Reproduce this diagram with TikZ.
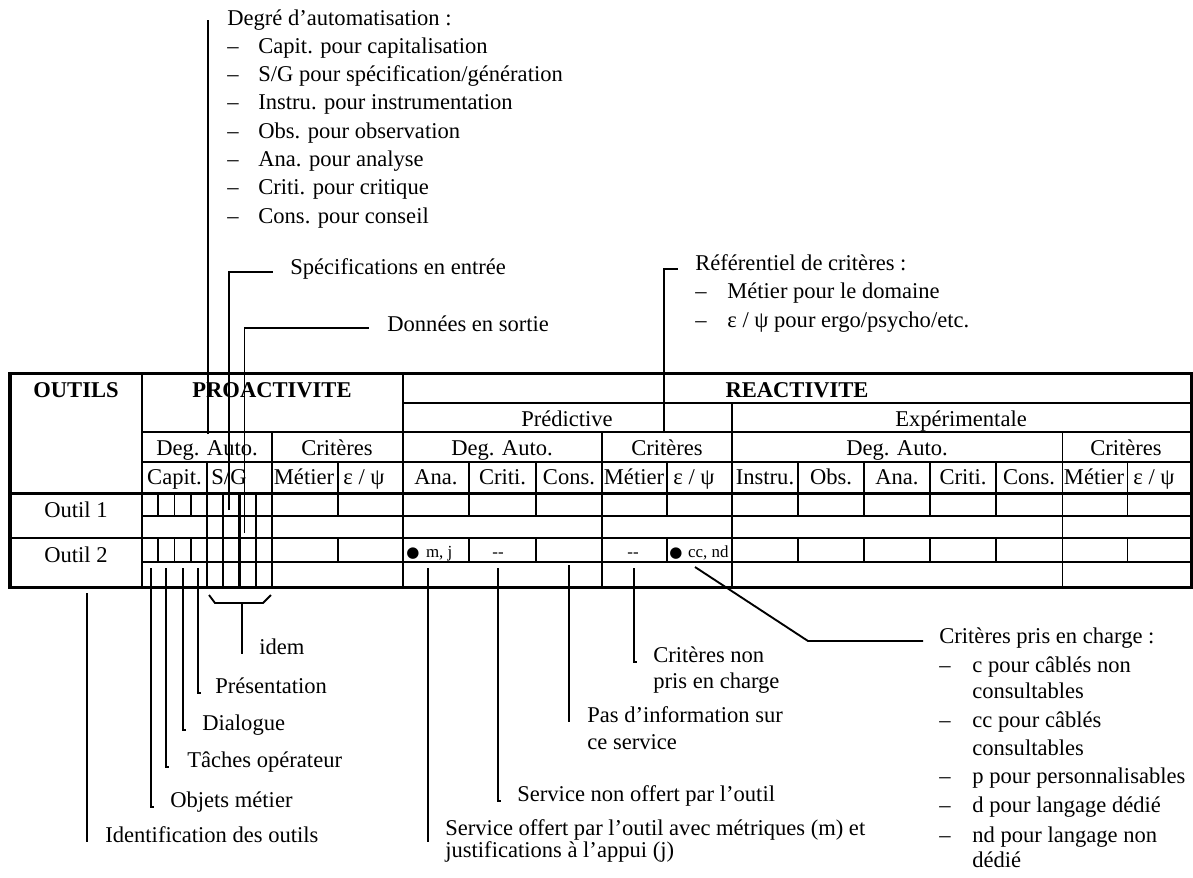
\documentclass[tikz,border=0pt,12pt]{standalone}
\usepackage{fontspec}
\setmainfont{Liberation Serif}
\newfontfamily\dotfont{DejaVu Sans}
\newcommand{\blackdot}{{\fontsize{8}{9}\dotfont ●}}

\begin{document}
\begin{tikzpicture}[x=0.532pt,y=-0.532pt,
  frameline/.style={line width=1.6pt},
  rowline/.style={line width=1.1pt},
  cellline/.style={line width=0.55pt},
  leader/.style={line width=1pt},
  lbl/.style={inner sep=0pt,anchor=base west},
  hd/.style={inner sep=0pt,anchor=base},
  cell/.style={inner sep=0pt,anchor=base west,font=\fontsize{9}{11}\selectfont}]
\useasboundingbox (0,0) rectangle (1193,877);
% the frame and the rows of the table
\draw[frameline] (10,373) rectangle (1191,587);
\draw[frameline] (10,493) -- (1191,493);
\draw[cellline] (403,403) -- (1191,403);
\foreach \y in {432,462}
  \draw[cellline] (142,\y) -- (1191,\y);
\foreach \y in {516,562}
  \draw[rowline] (142,\y) -- (1191,\y);
\draw[cellline] (10,538) -- (1191,538);
% the columns
\foreach \x in {142,403}
  \draw[cellline] (\x,373) -- (\x,587);
\draw[cellline] (732,403) -- (732,587);
\foreach \x in {602,1062}
  \draw[cellline] (\x,432) -- (\x,587);
\draw[rowline] (272,432) -- (272,587);
\draw[cellline] (207,462) -- (207,587);
\foreach \x in {223,256}
  \draw[cellline] (\x,493) -- (\x,587);
\draw[rowline] (239.5,493) -- (239.5,587);
\foreach \x in {338,469,536,798,864,930,996,1127}
  \draw[cellline] (\x,462) -- (\x,516) (\x,538) -- (\x,562);
\draw[rowline] (667,462) -- (667,516) (667,538) -- (667,562);
\foreach \x in {158,174.5,191}
  \draw[cellline] (\x,493) -- (\x,516) (\x,538) -- (\x,562);
% the headings
\node[hd,font=\bfseries] (outils) at (76,397) {OUTILS};
\node[hd,font=\bfseries] (proact) at (272,397) {PROACTIVITE};
\node[hd,font=\bfseries] (react) at (797,397) {REACTIVITE};
\node[hd] (predic) at (567,426) {Prédictive};
\node[hd] (experim) at (961,426) {Expérimentale};
\foreach \x/\t [count=\i] in {207/{Deg. Auto.},337/{Critères},502/{Deg. Auto.},667/{Critères},897/{Deg. Auto.},1126/{Critères}}
  \node[hd] (grp\i) at (\x,455) {\t};
\foreach \x/\t [count=\i] in {174.5/{Capit.},229/{S/G},304/{Métier},364/{ε / ψ},436/{Ana.},502.5/{Criti.},569/{Cons.},634/{Métier},694/{ε / ψ},765/{Instru.},831/{Obs.},897/{Ana.},963/{Criti.},1029/{Cons.},1094/{Métier},1154/{ε / ψ}}
  \node[hd] (sub\i) at (\x,484) {\t};
% the tools and the values
\node[hd] (tool1) at (76,517) {Outil 1};
\node[hd] (tool2) at (76,562) {Outil 2};
\node[cell] (anaval) at (406,557) {\blackdot\hspace{3.5pt}m, j};
\node[cell,anchor=base] (critval) at (498,557) {-{}-};
\node[cell,anchor=base] (metval) at (633,557) {-{}-};
\node[cell] (epsval) at (669,557) {\blackdot\hspace{3pt}cc, nd};
% the notes above the table
\node[lbl] (degtitle) at (227,25) {Degré d’automatisation :};
\foreach \t [count=\i] in {Capit. pour capitalisation,S/G pour spécification/génération,Instru. pour instrumentation,Obs. pour observation,Ana. pour analyse,Criti. pour critique,Cons. pour conseil}{
  \node[lbl] (degdash\i) at (227,25+28.3*\i) {–};
  \node[lbl] (degitem\i) at (258,25+28.3*\i) {\t};
}
\coordinate (degfoot) at (208,434);
\draw[leader] (degfoot) -- (degfoot |- degtitle.west);
\node[lbl] (spec) at (290,274) {Spécifications en entrée};
\coordinate (specfoot) at (229,510);
\draw[leader] (specfoot) |- ([shift={(-17,-2)}]spec.base west);
\node[lbl] (donnees) at (387,331) {Données en sortie};
\coordinate (donfoot) at (244.5,533);
\draw[leader] (donfoot) |- ([shift={(-18,-3)}]donnees.base west);
\node[lbl] (refcrit) at (695,270) {Référentiel de critères :};
\node[lbl] (refdash1) at (695,298.5) {–};
\node[lbl] (refitem1) at (727,298.5) {Métier pour le domaine};
\node[lbl] (refdash2) at (695,327) {–};
\node[lbl] (refitem2) at (727,327) {ε / ψ pour ergo/psycho/etc.};
\coordinate (reffoot) at (664,433);
\draw[leader] (reffoot) |- ([shift={(-17,-1)}]refcrit.base west);
% the notes below the table
\node[lbl] (ident) at (105,842) {Identification des outils};
\coordinate (identtop) at (87,593);
\draw[leader] (identtop) -- (identtop |- ident.base);
\foreach \x/\lx/\y/\n/\t in {151/170/807/objets/Objets métier,166/187/767/taches/Tâches opérateur,183/202/730/dialogue/Dialogue,198/215/693/present/Présentation}{
  \coordinate (\n-top) at (\x,568);
  \node[lbl] (\n) at (\lx,\y) {\t};
  \draw[leader] (\n-top) -- (\n-top |- \n.base) -- ++(3,0);
}
\node[lbl] (idem) at (259,654) {idem};
\coordinate (idemstem) at (242,603);
\draw[leader] (209,595) -- (215,603) -- (263,603) -- (271,595);
\draw[leader] (idemstem) -- (idemstem |- idem.base);
\coordinate (critnon-top) at (634,568);
\node[lbl] (critnon) at (653,662) {Critères non};
\node[lbl] (critnon2) at (653,688) {pris en charge};
\draw[leader] (critnon-top) -- (critnon-top |- critnon.base) -- ++(3,0);
\coordinate (pasinfo-top) at (569,565);
\node[lbl] (pasinfo) at (587,722) {Pas d’information sur};
\node[lbl] (pasinfo2) at (587,749) {ce service};
\draw[leader] (pasinfo-top) -- (pasinfo-top |- pasinfo.base);
\coordinate (nonoff-top) at (498,568);
\node[lbl] (nonoff) at (517,801) {Service non offert par l’outil};
\draw[leader] (nonoff-top) -- (nonoff-top |- nonoff.base) -- ++(3,0);
\coordinate (offert-top) at (428,568);
\node[lbl] (offert) at (445,835) {Service offert par l’outil avec métriques (m) et};
\node[lbl] (offert2) at (445,857) {justifications à l’appui (j)};
\draw[leader] (offert-top) -- ([shift={(-17,7)}]offert.base west);
\node[lbl] (pris) at (939,643) {Critères pris en charge :};
\coordinate (pris-top) at (695,567);
\coordinate (pris-elbow) at (808,641);
\draw[leader] (pris-top) -- (pris-elbow) -- ([shift={(-16,-2)}]pris.base west);
\foreach \y [count=\i] in {672,727,783,812,842}
  \node[lbl] (prisdash\i) at (939,\y) {–};
\foreach \y/\t [count=\i] in {672/c pour câblés non,698/consultables,727/cc pour câblés,755/consultables,783/p pour personnalisables,812/d pour langage dédié,842/nd pour langage non,867/dédié}
  \node[lbl] (prisitem\i) at (972,\y) {\t};
\end{tikzpicture}
\end{document}
